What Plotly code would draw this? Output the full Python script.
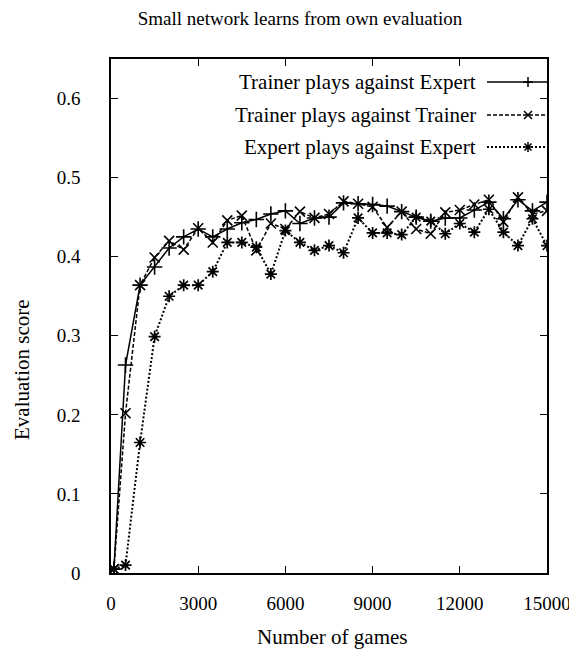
import plotly.graph_objects as go

games = [100, 500, 1000, 1500, 2000, 2500, 3000, 3500, 4000, 4500, 5000, 5500,
         6000, 6500, 7000, 7500, 8000, 8500, 9000, 9500, 10000, 10500, 11000,
         11500, 12000, 12500, 13000, 13500, 14000, 14500, 15000]

trainer_vs_expert = [0.005, 0.263, 0.364, 0.387, 0.411, 0.425, 0.435, 0.425, 0.435, 0.443,
                     0.447, 0.454, 0.458, 0.442, 0.449, 0.450, 0.468, 0.467, 0.466, 0.464,
                     0.457, 0.450, 0.445, 0.449, 0.449, 0.459, 0.469, 0.448, 0.472, 0.458, 0.469]

trainer_vs_trainer = [0.005, 0.202, 0.364, 0.399, 0.420, 0.409, 0.436, 0.418, 0.446, 0.452,
                      0.408, 0.442, 0.435, 0.457, 0.449, 0.454, 0.470, 0.467, 0.463, 0.437,
                      0.457, 0.435, 0.429, 0.456, 0.459, 0.466, 0.472, 0.444, 0.475, 0.454, 0.458]

expert_vs_expert = [0.005, 0.010, 0.165, 0.299, 0.350, 0.364, 0.364, 0.381, 0.418, 0.418,
                    0.412, 0.378, 0.433, 0.418, 0.408, 0.414, 0.405, 0.449, 0.430, 0.430,
                    0.428, 0.450, 0.445, 0.429, 0.442, 0.431, 0.460, 0.431, 0.414, 0.448, 0.414]

series_names = ["Trainer plays against Expert", "Trainer plays against Trainer",
                "Expert plays against Expert"]

x_ticks = [0, 3000, 6000, 9000, 12000, 15000]
y_ticks = [0, 0.1, 0.2, 0.3, 0.4, 0.5, 0.6]
y_tick_labels = ["0", "0.1", "0.2", "0.3", "0.4", "0.5", "0.6"]

FONT = "Liberation Serif, Times New Roman, serif"
styles = [
    dict(dash="solid", width=1.5, symbol="cross-thin-open", msize=11, mwidth=1.6),
    dict(dash="4px,2px", width=1.5, symbol="x-thin-open", msize=10, mwidth=1.6),
    dict(dash="2px,2px", width=2.0, symbol="asterisk-open", msize=10, mwidth=1.7),
]

fig = go.Figure()
for name, ys, st in zip(series_names, [trainer_vs_expert, trainer_vs_trainer, expert_vs_expert], styles):
    fig.add_trace(go.Scatter(
        x=games, y=ys, name=name, mode="lines+markers",
        line=dict(color="black", width=st["width"], dash=st["dash"]),
        marker=dict(symbol=st["symbol"], size=st["msize"], color="black",
                    line=dict(color="black", width=st["mwidth"])),
        showlegend=False,
    ))

# The page body has an 8px margin; work in page pixels and convert.
OFF = 8
FIG_W, FIG_H = 577 - OFF, 656 - OFF
L, R, T, B = 111 - OFF, 547 - OFF, 59 - OFF, 573 - OFF
W, H = R - L, B - T
def px(xp):
    return (xp - OFF - L) / W
def py(yp):
    return (B - (yp - OFF)) / H

rows_y = [82, 115, 147]
glyphs = [
    "M-5,0 L5,0 M0,-5 L0,5",
    "M-4,-4 L4,4 M-4,4 L4,-4",
    "M-5,0 L5,0 M0,-5 L0,5 M-3.5,-3.5 L3.5,3.5 M-3.5,3.5 L3.5,-3.5",
]
for name, ry, st, gl in zip(series_names, rows_y, styles, glyphs):
    fig.add_shape(type="line", xref="paper", yref="paper",
                  x0=px(487), x1=px(547), y0=py(ry), y1=py(ry),
                  line=dict(color="black", width=st["width"], dash=st["dash"]))
    fig.add_shape(type="path", xref="paper", yref="paper",
                  xsizemode="pixel", ysizemode="pixel",
                  xanchor=px(528), yanchor=py(ry), path=gl,
                  line=dict(color="black", width=1.5))
    fig.add_annotation(text=name, xref="paper", yref="paper", x=px(478), y=py(ry),
                       xanchor="right", yanchor="middle", showarrow=False,
                       font=dict(family=FONT, size=21, color="black"))

# Axis titles
fig.add_annotation(text="Number of games", xref="paper", yref="paper",
                   x=px(332), y=py(637), xanchor="center", yanchor="middle",
                   showarrow=False, font=dict(family=FONT, size=21, color="black"))
fig.add_annotation(text="Evaluation score", xref="paper", yref="paper",
                   x=px(22), y=py(370), xanchor="center", yanchor="middle",
                   textangle=-90, showarrow=False,
                   font=dict(family=FONT, size=21, color="black"))

axis_common = dict(showgrid=False, zeroline=False, showline=True, linecolor="black",
                   linewidth=1.5, mirror="ticks", ticks="inside", ticklen=7,
                   tickwidth=1.2, tickcolor="black", automargin=False,
                   tickfont=dict(family=FONT, size=19, color="black"))

fig.update_layout(
    width=FIG_W, height=FIG_H, autosize=False,
    margin=dict(l=L, r=FIG_W - R, t=T, b=FIG_H - B, pad=0),
    paper_bgcolor="white", plot_bgcolor="white",
    title=dict(text="Small network learns from own evaluation",
               x=(300 - OFF) / FIG_W, xanchor="center", xref="container",
               y=1 - (18 - OFF) / FIG_H, yanchor="middle", yref="container",
               font=dict(family=FONT, size=19, color="black")),
    xaxis=dict(range=[0, 15000], tickvals=x_ticks, ticktext=[str(v) for v in x_ticks],
               ticklabelstandoff=12, **axis_common),
    yaxis=dict(range=[0, 0.65], tickvals=y_ticks, ticktext=y_tick_labels,
               ticklabelstandoff=25, **axis_common),
)

fig.write_html("out.html")
